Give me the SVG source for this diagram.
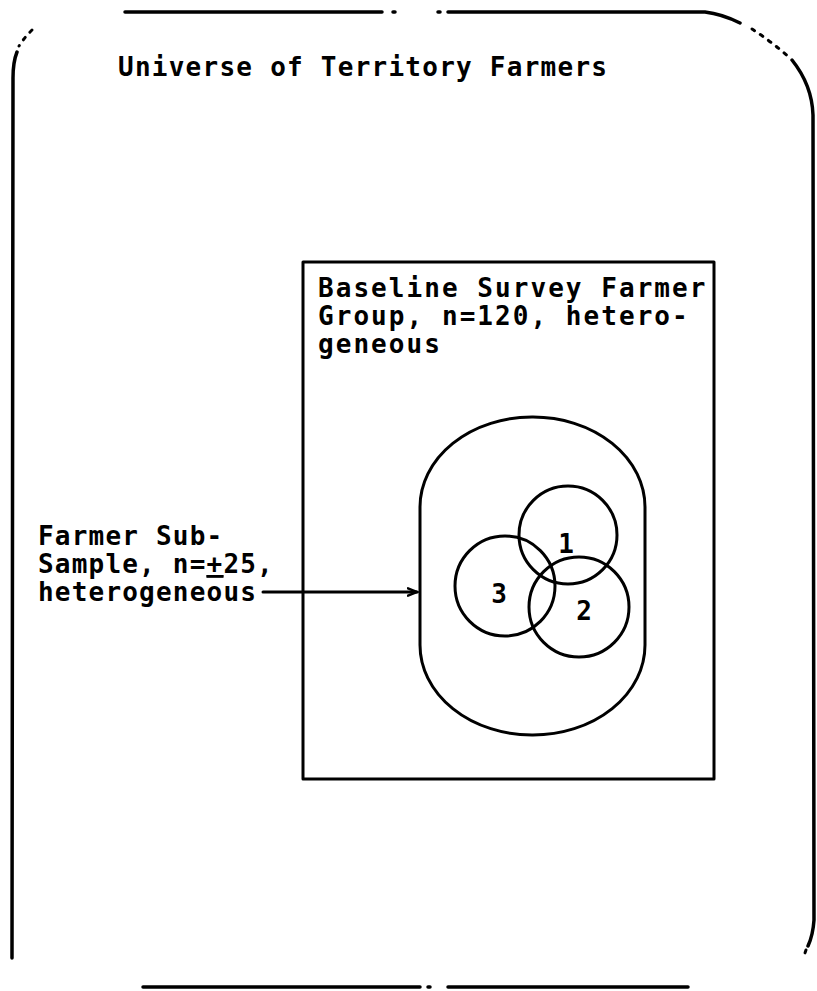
<svg xmlns="http://www.w3.org/2000/svg" width="817" height="991" viewBox="0 0 817 991">
  <style>
    .ln { fill: none; stroke: #000; stroke-width: 3; stroke-linecap: round; stroke-linejoin: round; }
    .frame { fill: none; stroke: #000; stroke-width: 3.5; stroke-linecap: round; }
    .dot { fill: none; stroke: #000; stroke-width: 3; stroke-linecap: round; stroke-dasharray: 3 7; }
    .t { font-family: "DejaVu Sans Mono", "Liberation Mono", monospace; font-weight: bold; font-size: 26px; fill: #000; }
    .title { letter-spacing: 1.25px; }
    .bl { letter-spacing: 2.05px; }
    .lab { letter-spacing: 1.2px; }
    .num { font-family: "DejaVu Sans Mono", "Liberation Mono", monospace; font-weight: bold; font-size: 26px; fill: #000; }
  </style>
  <defs>
    <marker id="arr" markerWidth="12" markerHeight="10" refX="10" refY="5" orient="auto" markerUnits="userSpaceOnUse">
      <path d="M0,1 L10,5 L0,9" fill="none" stroke="#000" stroke-width="2.5"/>
    </marker>
  </defs>

  <g id="universe">
    <path class="frame" d="M125,12 L382,12"/>
    <path class="frame" d="M393,12 L395,12 M438,12 L440,12"/>
    <path class="frame" d="M448,12 L705,12 Q722,14 740,23"/>
    <path class="dot" d="M752,29 Q772,42 790,58"/>
    <path class="frame" d="M792,60 Q812,85 813,115 L814,920 Q813,935 808,946"/>
    <path class="dot" d="M806,950 L804,956"/>
    <path class="dot" d="M32,30 Q24,38 19,46"/>
    <path class="frame" d="M17,52 Q13,62 13,78 L12,958"/>
    <path class="frame" d="M143,987 L420,987"/>
    <path class="frame" d="M428,987 L430,987"/>
    <path class="frame" d="M448,987 L688,987"/>
    <text class="t title" x="118" y="76">Universe of Territory Farmers</text>
  </g>

  <g id="baseline-group">
    <rect class="ln" x="303" y="262" width="411" height="517"/>
    <text class="t bl" x="318" y="297">Baseline Survey Farmer</text>
    <text class="t bl" x="318" y="325">Group, n=120, hetero-</text>
    <text class="t bl" x="318" y="353">geneous</text>
  </g>

  <g id="sub-sample">
    <rect class="ln" x="420" y="417" width="225" height="318" rx="112" ry="90"/>
  </g>

  <g id="sub-sample-label">
    <text class="t lab" x="38" y="545">Farmer Sub-</text>
    <text class="t lab" x="38" y="573">Sample, n=<tspan text-decoration="underline">+</tspan>25,</text>
    <text class="t lab" x="38" y="601">heterogene<tspan text-decoration="overline">o</tspan>us</text>
  </g>

  <g id="circle-1">
    <circle class="ln" cx="568" cy="535" r="49"/>
    <text class="num" x="566" y="553" text-anchor="middle">1</text>
  </g>
  <g id="circle-2">
    <circle class="ln" cx="579" cy="607" r="50"/>
    <text class="num" x="584" y="620" text-anchor="middle">2</text>
  </g>
  <g id="circle-3">
    <circle class="ln" cx="505" cy="586" r="50"/>
    <text class="num" x="499" y="603" text-anchor="middle">3</text>
  </g>

  <g id="connectors">
    <path class="ln" d="M263,592 L417,592" marker-end="url(#arr)"/>
  </g>
</svg>
